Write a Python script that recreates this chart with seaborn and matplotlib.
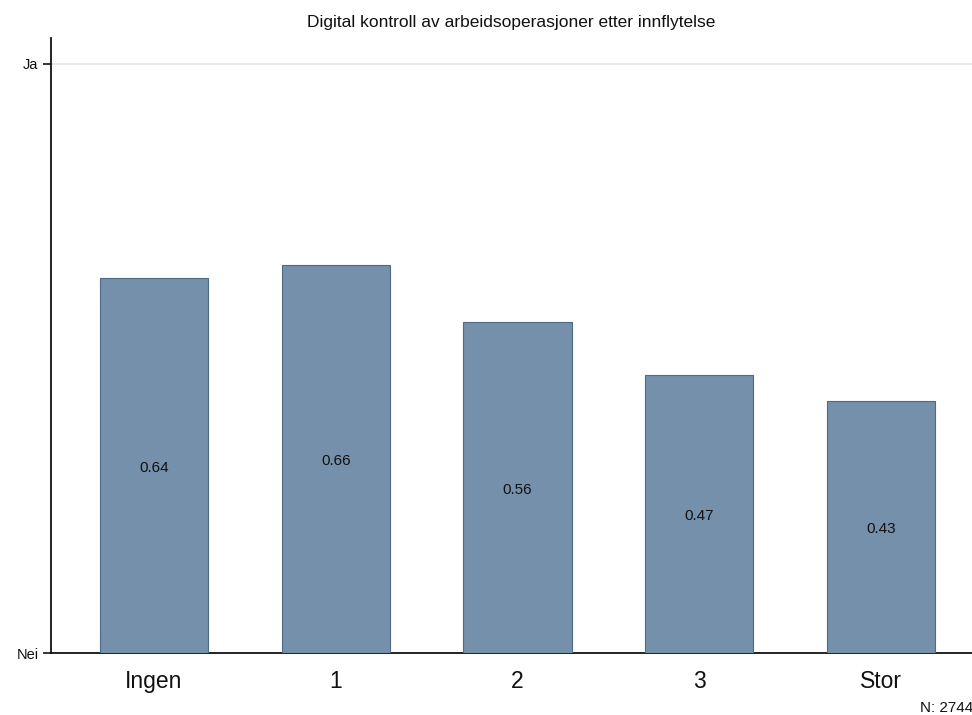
import pandas as pd
import numpy as np
import matplotlib.pyplot as plt
import seaborn as sns

sns.set_style("white")
plt.rcParams["font.family"] = ["Liberation Sans", "DejaVu Sans"]

# Data
categories = ["Ingen", "1", "2", "3", "Stor"]
values = [0.637, 0.659, 0.562, 0.472, 0.428]
labels = ["0.64", "0.66", "0.56", "0.47", "0.43"]
n_total = 2744

df = pd.DataFrame({"innflytelse": categories, "andel": values})

fig = plt.figure(figsize=(9.72, 7.15), dpi=100)
ax = fig.add_axes([0.0525, 0.0867, 0.9475, 0.8602])

sns.barplot(data=df, x="innflytelse", y="andel", color="#7590aa",
            width=0.595, saturation=1, edgecolor="#4d6a88", linewidth=0.8,
            zorder=3, ax=ax)

# value labels at mid-height of each bar
for i, (v, lab) in enumerate(zip(values, labels)):
    ax.text(i, v / 2 - 0.004, lab, ha="center", va="center", fontsize=11, color="#111111")

ax.set_xlim(-0.566, 4.5)
ax.set_ylim(0, 1.044)
ax.set_yticks([0, 1])
ax.set_yticklabels(["Nei", "Ja"], fontsize=10.5)
ax.axhline(1, color="#e6e6e6", linewidth=1.2, zorder=1)

ax.tick_params(axis="y", length=6, width=1.3, direction="out", left=True, pad=3,
               labelcolor="#111111")
ax.tick_params(axis="x", length=0, labelsize=16.5, pad=12, labelcolor="#111111")
for s in ["top", "right"]:
    ax.spines[s].set_visible(False)
for s in ["left", "bottom"]:
    ax.spines[s].set_linewidth(1.3)
    ax.spines[s].set_color("#111111")

ax.set_xlabel("")
ax.set_ylabel("")
ax.set_title("Digital kontroll av arbeidsoperasjoner etter innflytelse",
             fontsize=12.5, pad=8, color="#111111")

fig.text(0.947, 0.0, f"N: {n_total}", fontsize=11, ha="left", va="bottom",
         color="#111111")

fig.savefig("out.png", dpi=100)
